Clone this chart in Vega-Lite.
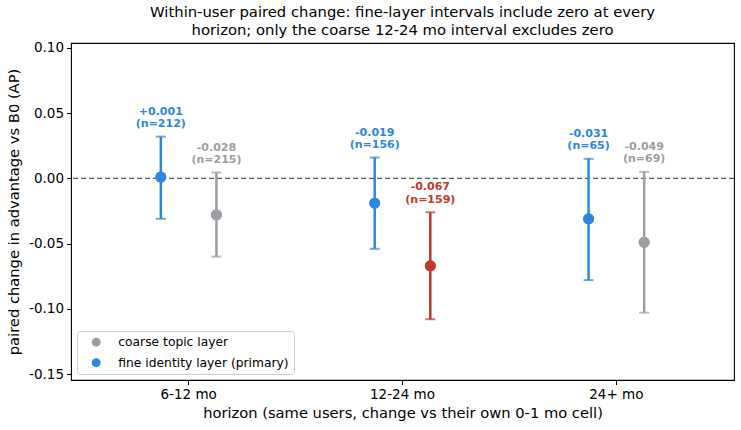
{
  "$schema": "https://vega.github.io/schema/vega-lite/v6.json",
  "width": 663,
  "height": 337,
  "autosize": "none",
  "padding": {"left": 71, "top": 43, "right": 7, "bottom": 50},
  "background": "white",
  "title": {
    "text": ["Within-user paired change: fine-layer intervals include zero at every", "horizon; only the coarse 12-24 mo interval excludes zero"],
    "font": "DejaVu Sans", "fontSize": 14.8, "fontWeight": "normal", "color": "black",
    "anchor": "middle", "offset": 3, "lineHeight": 18
  },
  "config": {
    "font": "DejaVu Sans",
    "view": {"stroke": "black", "strokeWidth": 1.1},
    "axis": {
      "domain": false, "grid": false,
      "ticks": true, "tickColor": "black", "tickSize": 4.5, "tickWidth": 1,
      "labelColor": "black", "labelFont": "DejaVu Sans", "labelFontSize": 13.5,
      "titleColor": "black", "titleFont": "DejaVu Sans", "titleFontSize": 14.7, "titleFontWeight": "normal"
    }
  },
  "data": {
    "values": [
      {"horizon": "6-12 mo", "layer": "fine", "colorkey": "fine identity layer (primary)", "est": 0.001, "lo": -0.031, "hi": 0.032, "label": "+0.001\n(n=212)"},
      {"horizon": "6-12 mo", "layer": "coarse", "colorkey": "coarse topic layer", "est": -0.028, "lo": -0.060, "hi": 0.0045, "label": "-0.028\n(n=215)"},
      {"horizon": "12-24 mo", "layer": "fine", "colorkey": "fine identity layer (primary)", "est": -0.019, "lo": -0.054, "hi": 0.016, "label": "-0.019\n(n=156)"},
      {"horizon": "12-24 mo", "layer": "coarse", "colorkey": "coarse excludes zero", "est": -0.067, "lo": -0.108, "hi": -0.026, "label": "-0.067\n(n=159)"},
      {"horizon": "24+ mo", "layer": "fine", "colorkey": "fine identity layer (primary)", "est": -0.031, "lo": -0.078, "hi": 0.015, "label": "-0.031\n(n=65)"},
      {"horizon": "24+ mo", "layer": "coarse", "colorkey": "coarse topic layer", "est": -0.049, "lo": -0.103, "hi": 0.005, "label": "-0.049\n(n=69)"}
    ]
  },
  "layer": [
    {
      "data": {"values": [{}]},
      "mark": {"type": "rule", "color": "#555555", "strokeWidth": 1.3, "strokeDash": [5, 3]},
      "encoding": {"y": {"datum": 0, "type": "quantitative", "scale": {"domain": [-0.1546, 0.1038], "nice": false, "zero": false}}}
    },
    {
      "mark": {"type": "point", "filled": true, "opacity": 1, "size": 120},
      "encoding": {
        "x": {"field": "horizon", "type": "nominal", "sort": ["6-12 mo", "12-24 mo", "24+ mo"], "scale": {"paddingInner": 0, "paddingOuter": 0.05}, "axis": {"title": "horizon (same users, change vs their own 0-1 mo cell)", "labelAngle": 0, "labelPadding": 3, "titlePadding": 4}},
        "xOffset": {"field": "layer", "type": "nominal", "sort": ["fine", "coarse"], "scale": {"paddingInner": 0, "paddingOuter": 0.923}},
        "y": {"field": "est", "type": "quantitative", "scale": {"domain": [-0.1546, 0.1038], "nice": false, "zero": false}, "axis": {"title": "paired change in advantage vs B0 (AP)", "values": [-0.15, -0.1, -0.05, 0, 0.05, 0.1], "labelExpr": "replace(format(datum.value, '.2f'), '\u2212', '-')", "labelPadding": 3, "titlePadding": 7}},
        "color": {"field": "colorkey", "type": "nominal", "scale": {"domain": ["coarse topic layer", "fine identity layer (primary)", "coarse excludes zero"], "range": ["#9b9ea3", "#2e86de", "#c0392b"]},
          "legend": {
            "title": null, "values": ["coarse topic layer", "fine identity layer (primary)"],
            "orient": "bottom-left", "offset": 6,
            "symbolType": "circle", "symbolSize": 80, "symbolStrokeWidth": 0, "symbolOffset": 8, "symbolOpacity": 1,
            "labelFont": "DejaVu Sans", "labelFontSize": 12.3, "labelColor": "black", "labelOffset": 16, "labelLimit": 400,
            "rowPadding": 7.5, "padding": 5,
            "fillColor": "white", "strokeColor": "#cccccc", "cornerRadius": 3,
            "encode": {"symbols": {"update": {"opacity": {"value": 1}, "fillOpacity": {"value": 1}}}}
          }
        }
      }
    },
    {
      "mark": {"type": "rule", "strokeWidth": 2.5},
      "encoding": {
        "x": {"field": "horizon", "type": "nominal", "sort": ["6-12 mo", "12-24 mo", "24+ mo"]},
        "xOffset": {"field": "layer", "type": "nominal", "sort": ["fine", "coarse"]},
        "y": {"field": "lo", "type": "quantitative"},
        "y2": {"field": "hi"},
        "color": {"field": "colorkey", "type": "nominal"}
      }
    },
    {
      "mark": {"type": "tick", "size": 10, "thickness": 2},
      "encoding": {
        "x": {"field": "horizon", "type": "nominal", "sort": ["6-12 mo", "12-24 mo", "24+ mo"]},
        "xOffset": {"field": "layer", "type": "nominal", "sort": ["fine", "coarse"]},
        "y": {"field": "lo", "type": "quantitative"},
        "color": {"field": "colorkey", "type": "nominal"}
      }
    },
    {
      "mark": {"type": "tick", "size": 10, "thickness": 2},
      "encoding": {
        "x": {"field": "horizon", "type": "nominal", "sort": ["6-12 mo", "12-24 mo", "24+ mo"]},
        "xOffset": {"field": "layer", "type": "nominal", "sort": ["fine", "coarse"]},
        "y": {"field": "hi", "type": "quantitative"},
        "color": {"field": "colorkey", "type": "nominal"}
      }
    },
    {
      "mark": {"type": "point", "filled": true, "opacity": 1, "size": 120},
      "encoding": {
        "x": {"field": "horizon", "type": "nominal", "sort": ["6-12 mo", "12-24 mo", "24+ mo"]},
        "xOffset": {"field": "layer", "type": "nominal", "sort": ["fine", "coarse"]},
        "y": {"field": "est", "type": "quantitative"},
        "color": {"field": "colorkey", "type": "nominal"}
      }
    },
    {
      "mark": {"type": "text", "fontWeight": "bold", "fontSize": 11, "font": "DejaVu Sans", "baseline": "bottom", "align": "center", "dy": -20, "lineBreak": "\n", "lineHeight": 12.5},
      "encoding": {
        "x": {"field": "horizon", "type": "nominal", "sort": ["6-12 mo", "12-24 mo", "24+ mo"]},
        "xOffset": {"field": "layer", "type": "nominal", "sort": ["fine", "coarse"]},
        "y": {"field": "hi", "type": "quantitative"},
        "text": {"field": "label"},
        "color": {"field": "colorkey", "type": "nominal"}
      }
    }
  ]
}
